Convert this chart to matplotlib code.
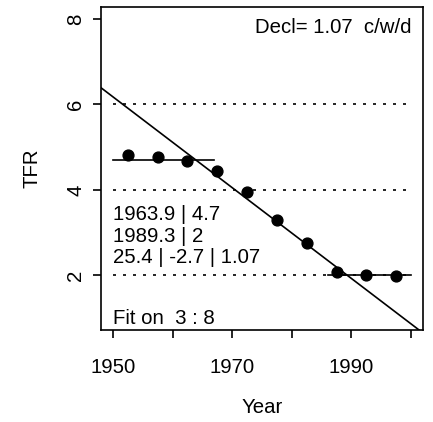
import matplotlib
matplotlib.use("Agg")
import matplotlib.pyplot as plt

plt.rcParams['font.family'] = ['Liberation Sans', 'DejaVu Sans']

years = [1952.5, 1957.5, 1962.5, 1967.5, 1972.5, 1977.5, 1982.5, 1987.5, 1992.5, 1997.5]
tfr = [4.82, 4.78, 4.67, 4.45, 3.94, 3.29, 2.75, 2.08, 2.01, 1.99]

# fitted model parameters
start_year, start_level = 1963.9, 4.7
end_year, end_level = 1989.3, 2.0
upper_seg = [1950, 1967]
lower_seg = [1986, 2000]
ref_levels = [2, 4, 6]
x_ticks = [1950, 1960, 1970, 1980, 1990, 2000]
x_labels = ['1950', '', '1970', '', '1990', '']
y_ticks = [2, 4, 6, 8]
info_lines = ['1963.9 | 4.7', '1989.3 | 2', '25.4 | -2.7 | 1.07']
info_y = [3.43, 2.91, 2.41]
decl_text = 'Decl= 1.07  c/w/d'
fit_text = 'Fit on  3 : 8'

W, H = 433, 422
fig = plt.figure(figsize=(W / 100, H / 100), dpi=100)
L, R, T, B = 101, 423, 7, 330
ax = fig.add_axes([L / W, 1 - B / H, (R - L) / W, (B - T) / H])
ax.set_xlim(1948, 2002)
ax.set_ylim(0.72, 8.28)

fs = 14.7
lw = 1.2

for lv in ref_levels:
    ax.plot([1950, 2000], [lv, lv], color='black', lw=lw, linestyle=(0, (1.8, 4.2)))

slope = (end_level - start_level) / (end_year - start_year)
xs = [1940, 2010]
ys = [start_level + slope * (x - start_year) for x in xs]
ax.plot(xs, ys, color='black', lw=lw)

ax.plot(upper_seg, [start_level, start_level], color='black', lw=lw)
ax.plot(lower_seg, [end_level, end_level], color='black', lw=lw)

ax.plot(years, tfr, 'o', color='black', markersize=7.8)

ax.text(2000, 7.8, decl_text, ha='right', va='center', fontsize=fs)
ax.text(1950, 1.0, fit_text, ha='left', va='center', fontsize=fs)
for t, yv in zip(info_lines, info_y):
    ax.text(1950, yv, t, ha='left', va='center', fontsize=fs)

ax.set_xticks(x_ticks)
ax.set_xticklabels(x_labels, fontsize=fs)
ax.set_yticks(y_ticks)
ax.set_yticklabels([str(v) for v in y_ticks], fontsize=fs, rotation=90, va='center')
ax.tick_params(direction='out', length=5.5, width=lw)
ax.tick_params(axis='x', pad=14.5)
ax.tick_params(axis='y', pad=6)
for s in ax.spines.values():
    s.set_linewidth(lw)

ax.set_xlabel('Year', fontsize=fs)
ax.xaxis.label.set_va('baseline')
ax.xaxis.set_label_coords(0.5, (B - 413) / (B - T))
ax.set_ylabel('TFR', fontsize=fs)
ax.yaxis.label.set_va('center')
ax.yaxis.set_label_coords((32 - L) / (R - L), 0.5)

fig.savefig('out.png', dpi=100)
